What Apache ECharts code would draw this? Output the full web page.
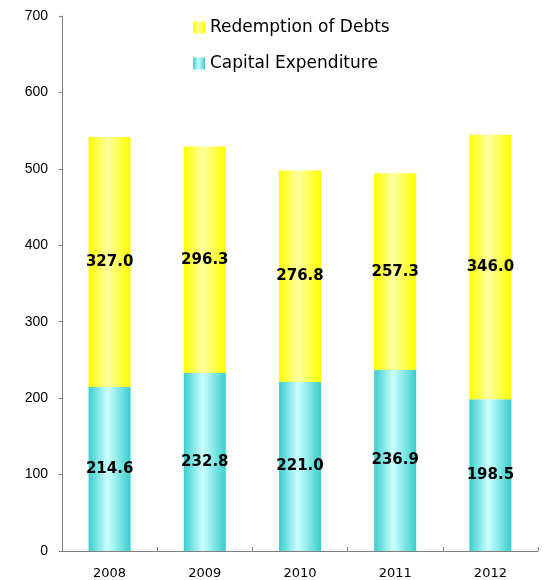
<!DOCTYPE html>
<html>
<head>
<meta charset="utf-8">
<script src="https://cdn.jsdelivr.net/npm/echarts@6/dist/echarts.min.js"></script>
<style>html,body{margin:0;padding:0;background:#fff;}#c{width:548px;height:580px;}</style>
</head>
<body>
<div id="c"></div>
<script>
var categories = ['2008', '2009', '2010', '2011', '2012'];
var capitalExpenditure = [214.6, 232.8, 221.0, 236.9, 198.5];
var redemptionOfDebts = [327.0, 296.3, 276.8, 257.3, 346.0];
var yTicks = [0, 100, 200, 300, 400, 500, 600, 700];

function grad(edge, center) {
  return new echarts.graphic.LinearGradient(0, 0, 1, 0, [
    {offset: 0, color: edge},
    {offset: 0.45, color: center},
    {offset: 1, color: edge}
  ]);
}
var chart = echarts.init(document.getElementById('c'), null, {renderer: 'canvas'});
var font = 'Arial, "Liberation Sans", sans-serif';
var wide = '"DejaVu Sans", sans-serif';
var labelStyle = {show: true, position: 'inside', color: '#000', fontWeight: 'bold', fontSize: 15, fontFamily: wide,
  formatter: function (p) { return p.value.toFixed(1); }};
chart.setOption({
  animation: false,
  textStyle: {fontFamily: font},
  legend: {
    orient: 'vertical', left: 193, top: 19, itemWidth: 12, itemHeight: 12, itemGap: 19,
    icon: 'rect', padding: 0,
    textStyle: {fontSize: 17, color: '#000', fontFamily: wide},
    data: ['Redemption of Debts', 'Capital Expenditure']
  },
  grid: {left: 62, right: 10, top: 16, bottom: 29, containLabel: false},
  xAxis: {
    type: 'category', data: categories,
    axisLine: {lineStyle: {color: '#808080', width: 1}},
    axisTick: {show: true, inside: true, length: 4, alignWithLabel: false, lineStyle: {color: '#808080'}},
    axisLabel: {color: '#000', fontSize: 13, margin: 16, fontFamily: wide}
  },
  yAxis: {
    type: 'value', min: yTicks[0], max: yTicks[yTicks.length - 1], interval: 100,
    axisLine: {show: true, lineStyle: {color: '#808080', width: 1}},
    axisTick: {show: true, length: 3, lineStyle: {color: '#808080'}},
    splitLine: {show: false},
    axisLabel: {color: '#000', fontSize: 14, margin: 14, fontFamily: font}
  },
  series: [
    {name: 'Capital Expenditure', type: 'bar', stack: 'a', barWidth: 42, data: capitalExpenditure,
     itemStyle: {color: grad('#3ACDCD', '#CCFFFF')}, label: labelStyle},
    {name: 'Redemption of Debts', type: 'bar', stack: 'a', barWidth: 42, data: redemptionOfDebts,
     itemStyle: {color: grad('#FFFF00', '#FFFFA0')}, label: labelStyle}
  ]
});
</script>
</body>
</html>
